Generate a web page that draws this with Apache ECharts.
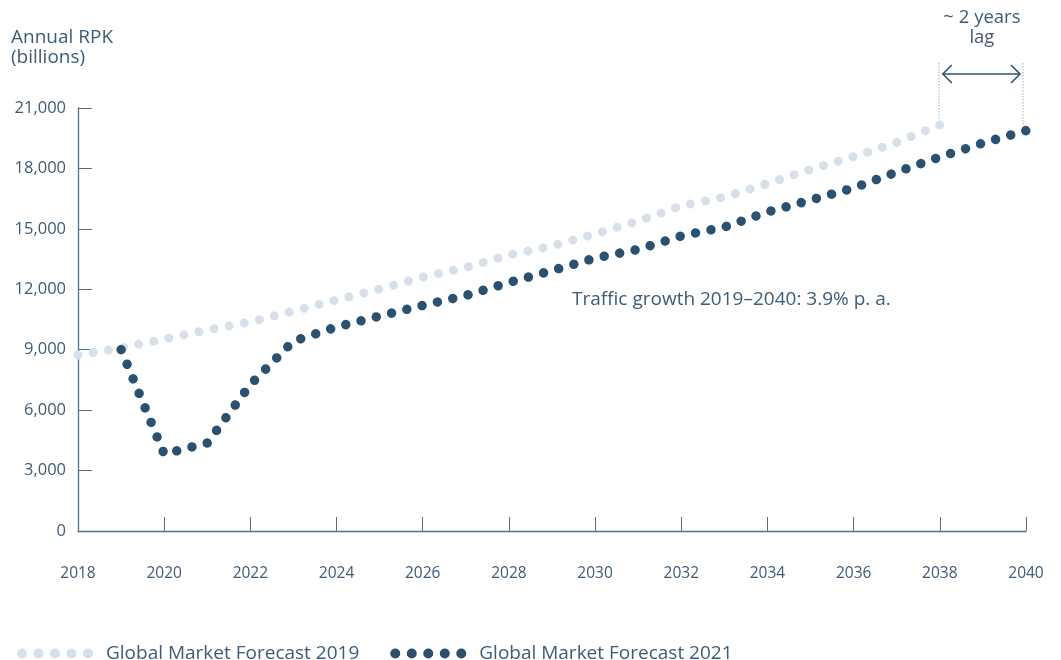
<!DOCTYPE html>
<html>
<head>
<meta charset="utf-8">
<script src="https://cdn.jsdelivr.net/npm/echarts@6/dist/echarts.min.js"></script>
<style>
html,body{margin:0;padding:0;background:#fff;}
#c{width:1061px;height:660px;}
</style>
</head>
<body>
<div id="c"></div>
<script>
// ---- data ----
const years2019 = [2018,2019,2020,2021,2022,2023,2024,2025,2026,2027,2028,2029,2030,2031,2032,2033,2034,2035,2036,2037,2038];
const gmf2019 = [8740,9085,9530,9980,10380,10920,11470,12010,12610,13080,13700,14150,14750,15390,16140,16580,17250,17950,18590,19290,20160];
const years2021 = [2019,2020,2021,2022,2023,2024,2025,2026,2027,2028,2029,2030,2031,2032,2033,2034,2035,2036,2037,2038,2039,2040];
const gmf2021 = [9000,3820,4370,7270,9430,10130,10670,11200,11690,12340,12930,13550,13980,14650,15090,15840,16430,17030,17820,18570,19260,19880];
const seriesNames = ['Global Market Forecast 2019','Global Market Forecast 2021'];
const yTicks = [0,3000,6000,9000,12000,15000,18000,21000];
const xTicks = [2018,2020,2022,2024,2026,2028,2030,2032,2034,2036,2038,2040];

const TXT = '#3d5c78';
const AXIS = '#51708a';
const DARK = '#2a5170';
const LIGHT = '#d5e0eb';
const FONT = '"Open Sans", Roboto, sans-serif';

const dots5 = 'path://M0,5a5,5 0 1,0 10,0a5,5 0 1,0 -10,0Z M16.5,5a5,5 0 1,0 10,0a5,5 0 1,0 -10,0Z M33,5a5,5 0 1,0 10,0a5,5 0 1,0 -10,0Z M49.5,5a5,5 0 1,0 10,0a5,5 0 1,0 -10,0Z M66,5a5,5 0 1,0 10,0a5,5 0 1,0 -10,0Z';

const chart = echarts.init(document.getElementById('c'));
const option = {
  animation: false,
  backgroundColor: '#fff',
  textStyle: { fontFamily: FONT, color: TXT },
  grid: { left: 78, right: 35, top: 108, bottom: 129 },
  xAxis: {
    type: 'value', min: xTicks[0], max: xTicks[xTicks.length-1], interval: 2,
    axisLine: { lineStyle: { color: AXIS, width: 1.3 } },
    axisTick: { inside: true, length: 14, lineStyle: { color: AXIS, width: 1 } },
    splitLine: { show: false },
    axisLabel: { margin: 35, color: TXT, fontSize: 15.5, fontFamily: FONT, formatter: v => String(v) }
  },
  yAxis: {
    type: 'value', min: yTicks[0], max: yTicks[yTicks.length-1], interval: 3000,
    axisLine: { show: true, lineStyle: { color: AXIS, width: 1.3 } },
    axisTick: { show: true, inside: true, length: 14, lineStyle: { color: AXIS, width: 1 } },
    splitLine: { show: false },
    axisLabel: { margin: 12, color: TXT, fontSize: 16.5, fontFamily: FONT,
      formatter: v => v.toLocaleString('en-US') }
  },
  legend: {
    left: 12, top: 639, itemWidth: 76, itemHeight: 10, itemGap: 31,
    icon: dots5,
    textStyle: { color: TXT, fontSize: 19, fontFamily: FONT, padding: [0,0,0,8] },
    data: [
      { name: seriesNames[0], itemStyle: { color: LIGHT } },
      { name: seriesNames[1], itemStyle: { color: DARK } }
    ]
  },
  series: [
    {
      name: seriesNames[0], type: 'line', showSymbol: false, silent: true,
      data: years2019.map((y,i) => [y, gmf2019[i]]),
      itemStyle: { color: LIGHT },
      lineStyle: { color: LIGHT, width: 9, cap: 'round', join: 'round', type: [0.01, 15.3] }
    },
    {
      name: seriesNames[1], type: 'line', showSymbol: false, silent: true,
      data: years2021.map((y,i) => [y, gmf2021[i]]),
      itemStyle: { color: DARK },
      lineStyle: { color: DARK, width: 9.5, cap: 'round', join: 'round', type: [0.01, 15.8] }
    }
  ]
};
chart.setOption(option);

// fit the dot spacing so a dot lands on each end of the line
function pathLen(xs, vs) {
  let L = 0, prev = null;
  xs.forEach((x, i) => {
    const p = chart.convertToPixel({gridIndex:0}, [x, vs[i]]);
    if (prev) L += Math.hypot(p[0]-prev[0], p[1]-prev[1]);
    prev = p;
  });
  return L;
}
function fitGap(L, target) { const n = Math.max(1, Math.round(L / target)); return L / n - 0.003; }
const g19 = fitGap(pathLen(years2019, gmf2019), 15.3);
const g21 = fitGap(pathLen(years2021, gmf2021), 15.8);

const pEnd19 = chart.convertToPixel({gridIndex:0}, [years2019[years2019.length-1], gmf2019[gmf2019.length-1]]);
const pEnd21 = chart.convertToPixel({gridIndex:0}, [years2021[years2021.length-1], gmf2021[gmf2021.length-1]]);
const arrowY = 74, topY = 63;
chart.setOption({
  series: [
    { lineStyle: { type: [0.01, g19 - 0.01] } },
    { lineStyle: { type: [0.01, g21 - 0.01] } }
  ],
  graphic: [
    { type: 'text', left: 11, top: 28, style: { text: 'Annual RPK\n(billions)', fill: TXT, font: '19px ' + FONT, lineHeight: 20 } },
    { type: 'text', x: (pEnd19[0]+pEnd21[0])/2 - 1, y: 8, style: { text: '~ 2 years\nlag', fill: TXT, font: '18.5px ' + FONT, lineHeight: 20, align: 'center' } },
    { type: 'line', shape: { x1: pEnd19[0] - 1, y1: topY, x2: pEnd19[0] - 1, y2: pEnd19[1] - 6 }, style: { stroke: '#b8cce0', lineWidth: 1.5, lineDash: [1.5, 1.5] } },
    { type: 'line', shape: { x1: pEnd21[0] - 3, y1: topY, x2: pEnd21[0] - 3, y2: pEnd21[1] - 6 }, style: { stroke: '#b8cce0', lineWidth: 1.5, lineDash: [1.5, 1.5] } },
    { type: 'line', shape: { x1: pEnd19[0] + 3, y1: arrowY, x2: pEnd21[0] - 6, y2: arrowY }, style: { stroke: DARK, lineWidth: 1.5 } },
    { type: 'polyline', shape: { points: [[pEnd19[0]+12, arrowY-9],[pEnd19[0]+3, arrowY],[pEnd19[0]+12, arrowY+9]] }, style: { stroke: DARK, lineWidth: 1.5, fill: null } },
    { type: 'polyline', shape: { points: [[pEnd21[0]-15, arrowY-9],[pEnd21[0]-6, arrowY],[pEnd21[0]-15, arrowY+9]] }, style: { stroke: DARK, lineWidth: 1.5, fill: null } },
    { type: 'text', left: 572, top: 290, style: { text: 'Traffic growth 2019–2040: 3.9% p. a.', fill: TXT, font: '19px ' + FONT } }
  ]
});
</script>
</body>
</html>
